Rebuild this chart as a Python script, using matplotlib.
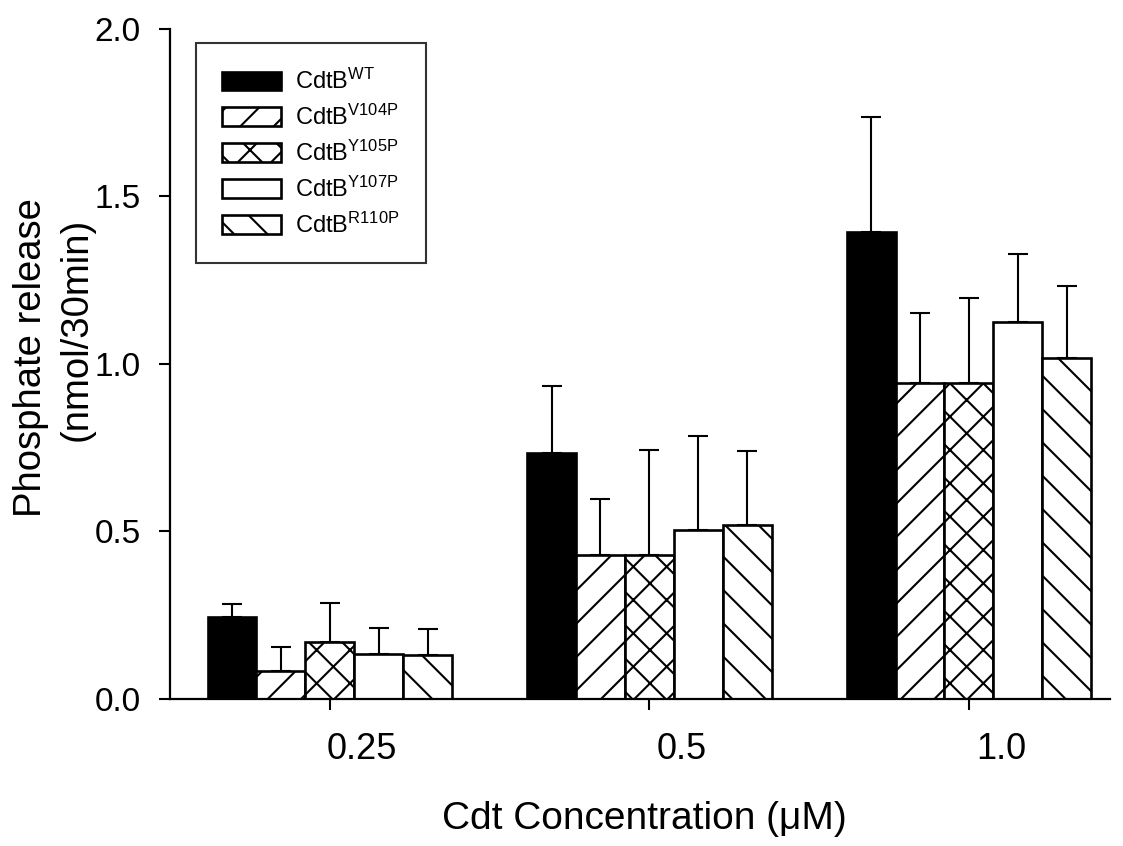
import numpy as np
import matplotlib
matplotlib.use("Agg")
import matplotlib.pyplot as plt
import matplotlib.transforms as mtransforms

plt.rcParams["font.family"] = ["Liberation Sans", "DejaVu Sans"]
plt.rcParams["mathtext.fontset"] = "custom"
plt.rcParams["mathtext.rm"] = "Liberation Sans"
plt.rcParams["mathtext.it"] = "Liberation Sans"
plt.rcParams["hatch.linewidth"] = 1.5

# data
concentrations = ["0.25", "0.5", "1.0"]
labels = ["WT", "V104P", "Y105P", "Y107P", "R110P"]
means = {
    "WT":    [0.245, 0.733, 1.394],
    "V104P": [0.083, 0.429, 0.943],
    "Y105P": [0.170, 0.429, 0.943],
    "Y107P": [0.135, 0.505, 1.125],
    "R110P": [0.130, 0.519, 1.019],
}
upper = {
    "WT":    [0.283, 0.935, 1.737],
    "V104P": [0.154, 0.598, 1.153],
    "Y105P": [0.285, 0.743, 1.198],
    "Y107P": [0.212, 0.785, 1.329],
    "R110P": [0.210, 0.740, 1.233],
}
fills = ["black", "white", "white", "white", "white"]
hatches = [None, "/", "x", None, "\\"]

W, H = 1123, 846
fig = plt.figure(figsize=(W / 100, H / 100), dpi=100)
ax = fig.add_axes([0.1514, 0.1738, 0.8366, 0.792])

x = np.arange(len(concentrations))
w = 0.153
handles = []
for i, lab in enumerate(labels):
    m = np.array(means[lab])
    err = np.array(upper[lab]) - m
    pos = x + (i - 2) * w
    b = ax.bar(pos, m, width=w, color=fills[i], edgecolor="black",
               linewidth=1.9, hatch=hatches[i], zorder=2,
               label=r"$\mathrm{CdtB}^{\mathrm{" + lab + "}}$")
    ax.errorbar(pos, m, yerr=[np.zeros_like(err), err], fmt="none",
                ecolor="black", elinewidth=1.5, capsize=7.5, capthick=1.5,
                zorder=1)
    handles.append(b)

ax.set_xlim(-0.5, 2.44)
ax.set_ylim(0, 2.0)
ax.set_yticks([0, 0.5, 1.0, 1.5, 2.0])
ax.set_yticklabels(["0.0", "0.5", "1.0", "1.5", "2.0"])
ax.set_xticks(x)
ax.set_xticklabels(concentrations)
ax.spines["top"].set_visible(False)
ax.spines["right"].set_visible(False)
ax.spines["left"].set_linewidth(1.6)
ax.spines["bottom"].set_linewidth(1.6)
ax.tick_params(axis="y", direction="out", length=8, width=1.5,
               labelsize=24, pad=13)
ax.tick_params(axis="x", direction="out", length=8, width=1.5,
               labelsize=26, pad=16)

# the x tick labels sit a little right of their ticks in the original
shift = mtransforms.ScaledTranslation(0.32, 0, fig.dpi_scale_trans)
for t in ax.get_xticklabels():
    t.set_transform(t.get_transform() + shift)

ax.set_xlabel("Cdt Concentration (μM)", fontsize=28)
ax.xaxis.set_label_coords(0.505, -0.152)

# two-line y label, each line placed on its own
fig.text(41 / W, 1 - 358 / H, "Phosphate release", fontsize=27.5,
         rotation=90, rotation_mode="anchor", ha="center", va="baseline")
fig.text(87 / W, 1 - 329 / H, "(nmol/30min)", fontsize=27.5,
         rotation=90, rotation_mode="anchor", ha="center", va="baseline")

leg = ax.legend(handles=handles, loc="upper left",
                bbox_to_anchor=(0.028, 0.979), fontsize=17,
                frameon=True, fancybox=False, edgecolor="black",
                handlelength=2.5, handleheight=0.85, labelspacing=0.45,
                borderpad=1.1, handletextpad=0.6, borderaxespad=0)
leg.get_frame().set_linewidth(1.5)

fig.savefig("out.png", dpi=100)
